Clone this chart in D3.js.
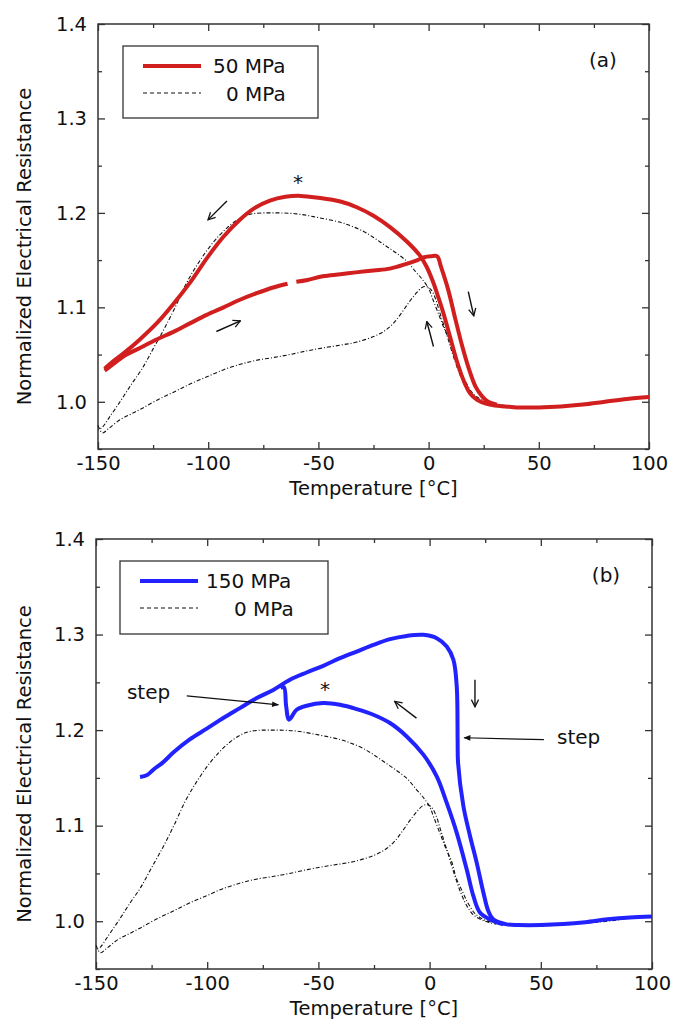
<!DOCTYPE html>
<html>
<head>
<meta charset="utf-8">
<script src="https://cdn.jsdelivr.net/npm/d3@7"></script>
<style>
  body { margin: 0; background: #fff; }
  svg text { font-family: "DejaVu Sans", Verdana, sans-serif; fill: #111; }
</style>
</head>
<body>
<div id="chart"></div>
<script>
// Data /////////////////////////////////////////////////////////////////
// [temperature degC, normalized resistance]
// 0 MPa reference loop (same in both panels)
const zeroCooling = [
  [100, 1.005], [90, 1.003], [80, 1.0], [70, 0.998], [60, 0.996], [50, 0.995], [40, 0.995],
  [35, 0.996], [30, 0.998], [25, 1.001], [22, 1.005], [20, 1.009], [17, 1.02], [15, 1.03],
  [12, 1.045], [10, 1.062], [7, 1.078], [5, 1.09], [2, 1.108], [0, 1.12], [-3, 1.13],
  [-6, 1.138], [-10, 1.149], [-15, 1.158], [-20, 1.166], [-25, 1.174], [-30, 1.181],
  [-35, 1.186], [-40, 1.19], [-50, 1.195], [-60, 1.199], [-70, 1.2], [-80, 1.199],
  [-85, 1.195], [-90, 1.187], [-95, 1.176], [-100, 1.162], [-105, 1.145], [-110, 1.125],
  [-115, 1.1], [-120, 1.077], [-125, 1.056], [-130, 1.035], [-135, 1.018], [-140, 1.0],
  [-145, 0.983], [-148, 0.973], [-150, 0.97]
]
const zeroHeating = [
  [-150, 0.975], [-148, 0.967], [-145, 0.972], [-140, 0.981], [-135, 0.987], [-130, 0.993],
  [-123, 1.002], [-115, 1.011], [-108, 1.019], [-100, 1.027], [-93, 1.034], [-85, 1.04],
  [-78, 1.044], [-70, 1.047], [-63, 1.05], [-55, 1.054], [-48, 1.057], [-40, 1.06],
  [-33, 1.063], [-25, 1.069], [-20, 1.075], [-16, 1.083], [-12, 1.095], [-9, 1.105],
  [-6, 1.114], [-3, 1.121], [-1, 1.122], [1, 1.119], [3, 1.11], [5, 1.095], [8, 1.073],
  [11, 1.05], [14, 1.03], [17, 1.015], [20, 1.006], [25, 1.0], [30, 0.997]
]

// 50 MPa (panel a)
const red50Cooling = [
  [100, 1.005], [90, 1.003], [80, 1.0], [70, 0.997], [60, 0.995], [50, 0.994], [40, 0.994],
  [35, 0.995], [30, 0.996], [26, 0.998], [22, 1.002], [18.8, 1.009], [15.8, 1.023],
  [12.7, 1.044], [9.7, 1.069], [6.7, 1.094], [4.5, 1.11], [2, 1.127], [-0.9, 1.143],
  [-4, 1.155], [-10, 1.17], [-17.5, 1.185], [-25, 1.197], [-32.6, 1.206], [-40, 1.212],
  [-50, 1.216], [-58, 1.218], [-65, 1.217], [-72, 1.213], [-79, 1.205], [-86, 1.192],
  [-93, 1.175], [-100, 1.154], [-108, 1.127], [-116, 1.103], [-123, 1.084], [-131, 1.066],
  [-138, 1.052], [-143, 1.043], [-147, 1.035]
]
const red50Heating = [
  [-147, 1.033], [-143, 1.04], [-138.5, 1.048], [-131, 1.057], [-123.4, 1.066],
  [-115.8, 1.074], [-108.3, 1.083], [-100.7, 1.092], [-93, 1.1], [-85.6, 1.108],
  [-78, 1.115], [-70.5, 1.121], [-64, 1.125], [-62, null], [-60, 1.127], [-55, 1.129],
  [-48, 1.133], [-40, 1.135], [-33, 1.137], [-25, 1.139], [-17.5, 1.141], [-10, 1.146],
  [-5, 1.15], [-2, 1.153], [1, 1.154], [3.9, 1.154], [5.6, 1.143], [8.9, 1.1185],
  [12.2, 1.087], [15.3, 1.0585], [18.4, 1.034], [21.3, 1.016], [24.2, 1.006],
  [27, 1.0], [31, 0.997]
]

// 150 MPa (panel b)
const blue150Upper = [
  [-130.2, 1.151], [-127, 1.153], [-124, 1.159], [-120, 1.166], [-115, 1.177],
  [-108, 1.19], [-100.2, 1.2015], [-92.8, 1.2126], [-85.3, 1.223],
  [-77.7, 1.2335], [-70.3, 1.242], [-62.8, 1.2527], [-55.3, 1.2603], [-47.8, 1.2673],
  [-40.3, 1.2753], [-32.8, 1.2822], [-25.3, 1.2892], [-17.8, 1.2952], [-10.3, 1.2986],
  [-2.8, 1.2997], [3.2, 1.2962], [7.7, 1.2875], [10.7, 1.2736], [12.2, 1.2457],
  [12.6, 1.19], [12.8, 1.1656], [15.2, 1.1203], [18.2, 1.089], [21.2, 1.0611],
  [24.2, 1.0298], [26.4, 1.0106], [28.6, 1.0019], [34.7, 0.9967], [40, 0.996],
  [50, 0.996], [60, 0.997], [70, 0.999], [80, 1.002], [90, 1.004], [100, 1.005]
]
const blue150Lower = [
  [33.2, 0.9967], [27.2, 1.0019], [22.7, 1.0089], [19.7, 1.0262], [16.7, 1.0541],
  [12.2, 1.0925], [7.7, 1.1238], [3.2, 1.1516], [-2.8, 1.1743], [-10.3, 1.1934],
  [-17.8, 1.2074], [-25.3, 1.2161], [-32.8, 1.222], [-40.3, 1.2265], [-47.8, 1.2283],
  [-55.3, 1.2255], [-59.8, 1.2213], [-63.2, 1.2109], [-64.5, 1.225], [-65.5, 1.245],
  [-67, 1.244]
]

// Axis ticks
const xMajor = [-150, -100, -50, 0, 50, 100]
const xMinor = [-125, -75, -25, 25, 75]
const yMajor = [1.0, 1.1, 1.2, 1.3, 1.4]
const yMinor = [0.95, 1.05, 1.15, 1.25, 1.35]

// Annotations (data coords)
const arrowsA = [
  [[-91.5, 1.2127], [-100.1, 1.1926]],
  [[-96.3, 1.0744], [-85.4, 1.0857]],
  [[2.2, 1.0585], [-0.8, 1.085]],
  [[18, 1.1167], [20.5, 1.091]]
]
const starsA = [[-59.3, 1.237]]
const arrowsB = [
  [[-5.9, 1.2126], [-15.7, 1.23]],
  [[20.4, 1.2527], [20.4, 1.2244]]
]
const stepArrowsB = [
  [[-109.2, 1.2359], [-68.0, 1.2265]],
  [[51.4, 1.19], [15.5, 1.192]]
]
const stepLabelsB = [[-136.1, 1.24], [57.3, 1.193]]
const starsB = [[-47.0, 1.2474]]
/////////////////////////////////////////////////////////////////////////

const width = 683
const height = 1026
const fontSize = 19.5

const svg = d3.select('#chart')
  .append('svg')
  .attr('width', width)
  .attr('height', height)

const defs = svg.append('defs')
defs.append('marker')
  .attr('id', 'open')
  .attr('viewBox', '0 0 10 10')
  .attr('refX', 9).attr('refY', 5)
  .attr('markerWidth', 9).attr('markerHeight', 9)
  .attr('markerUnits', 'userSpaceOnUse')
  .attr('orient', 'auto')
  .append('path')
  .attr('d', 'M1,1 L9,5 L1,9')
  .attr('fill', 'none')
  .attr('stroke', '#111')
  .attr('stroke-width', 1.4)
defs.append('marker')
  .attr('id', 'filled')
  .attr('viewBox', '0 0 10 10')
  .attr('refX', 9).attr('refY', 5)
  .attr('markerWidth', 9).attr('markerHeight', 7)
  .attr('markerUnits', 'userSpaceOnUse')
  .attr('orient', 'auto')
  .append('path')
  .attr('d', 'M0,1 L10,5 L0,9 Z')
  .attr('fill', '#111')

function drawPanel(p) {
  const x = d3.scaleLinear().domain([-150, 100]).range([p.left, p.right])
  const y = d3.scaleLinear().domain([0.95, 1.4]).range([p.bottom, p.top])
  const g = svg.append('g')

  // ticks (inward, all four sides)
  const tickGroup = (axis, tr) => {
    const ag = g.append('g').attr('transform', tr).call(axis)
    ag.select('.domain').remove()
    ag.selectAll('line').attr('stroke', '#333').attr('stroke-width', 1.3)
    ag.attr('font-family', null).attr('font-size', fontSize)
    return ag
  }
  const none = () => ''
  tickGroup(d3.axisBottom(x).tickValues(xMajor).tickSizeInner(-7).tickSizeOuter(0)
    .tickPadding(7).tickFormat(d => String(d)), `translate(0,${p.bottom})`)
    .selectAll('text').attr('fill', '#111')
  tickGroup(d3.axisBottom(x).tickValues(xMinor).tickSizeInner(-4).tickSizeOuter(0).tickFormat(none),
    `translate(0,${p.bottom})`)
  tickGroup(d3.axisTop(x).tickValues(xMajor).tickSizeInner(-7).tickSizeOuter(0).tickFormat(none),
    `translate(0,${p.top})`)
  tickGroup(d3.axisTop(x).tickValues(xMinor).tickSizeInner(-4).tickSizeOuter(0).tickFormat(none),
    `translate(0,${p.top})`)
  tickGroup(d3.axisLeft(y).tickValues(yMajor).tickSizeInner(-7).tickSizeOuter(0)
    .tickPadding(11).tickFormat(d3.format('.1f')), `translate(${p.left},0)`)
    .selectAll('text').attr('fill', '#111')
  tickGroup(d3.axisLeft(y).tickValues(yMinor).tickSizeInner(-4).tickSizeOuter(0).tickFormat(none),
    `translate(${p.left},0)`)
  tickGroup(d3.axisRight(y).tickValues(yMajor).tickSizeInner(-7).tickSizeOuter(0).tickFormat(none),
    `translate(${p.right},0)`)
  tickGroup(d3.axisRight(y).tickValues(yMinor).tickSizeInner(-4).tickSizeOuter(0).tickFormat(none),
    `translate(${p.right},0)`)

  // frame
  g.append('rect')
    .attr('x', p.left).attr('y', p.top)
    .attr('width', p.right - p.left).attr('height', p.bottom - p.top)
    .attr('fill', 'none').attr('stroke', '#333').attr('stroke-width', 1.5)

  // curves
  const line = d3.line()
    .defined(d => d[1] != null)
    .x(d => x(d[0]))
    .y(d => y(d[1]))
    .curve(d3.curveCatmullRom.alpha(0.5))

  g.selectAll('path.zero')
    .data([zeroCooling, zeroHeating])
    .join('path')
    .attr('class', 'zero')
    .attr('d', line)
    .attr('fill', 'none')
    .attr('stroke', '#111')
    .attr('stroke-width', 1.1)
    .attr('stroke-dasharray', '4,2,1,2')

  g.selectAll('path.stress')
    .data(p.series)
    .join('path')
    .attr('class', 'stress')
    .attr('d', line)
    .attr('fill', 'none')
    .attr('stroke', p.color)
    .attr('stroke-width', 4)
    .attr('stroke-linejoin', 'round')

  // annotation arrows
  g.selectAll('line.dir')
    .data(p.arrows)
    .join('line')
    .attr('class', 'dir')
    .attr('x1', d => x(d[0][0])).attr('y1', d => y(d[0][1]))
    .attr('x2', d => x(d[1][0])).attr('y2', d => y(d[1][1]))
    .attr('stroke', '#111').attr('stroke-width', 1.4)
    .attr('marker-end', 'url(#open)')

  g.selectAll('line.step')
    .data(p.stepArrows || [])
    .join('line')
    .attr('class', 'step')
    .attr('x1', d => x(d[0][0])).attr('y1', d => y(d[0][1]))
    .attr('x2', d => x(d[1][0])).attr('y2', d => y(d[1][1]))
    .attr('stroke', '#111').attr('stroke-width', 1.2)
    .attr('marker-end', 'url(#filled)')

  g.selectAll('text.steplab')
    .data(p.stepLabels || [])
    .join('text')
    .attr('class', 'steplab')
    .attr('x', d => x(d[0])).attr('y', d => y(d[1]))
    .attr('dy', '0.35em')
    .attr('font-size', 20)
    .text('step')

  g.selectAll('text.star')
    .data(p.stars)
    .join('text')
    .attr('class', 'star')
    .attr('x', d => x(d[0])).attr('y', d => y(d[1]))
    .attr('dy', '0.55em')
    .attr('text-anchor', 'middle')
    .attr('font-size', 20)
    .text('*')

  // panel tag
  g.append('text')
    .attr('x', p.right - 46).attr('y', p.top + p.tagDy)
    .attr('dy', '0.35em')
    .attr('text-anchor', 'middle')
    .attr('font-size', 20)
    .text(p.tag)

  // legend
  const lg = g.append('g').attr('transform', `translate(${p.left + p.legend.dx},${p.top + p.legend.dy})`)
  lg.append('rect')
    .attr('width', p.legend.w).attr('height', p.legend.h)
    .attr('fill', '#fff').attr('stroke', '#333').attr('stroke-width', 1.3)
  lg.append('line')
    .attr('x1', 20).attr('x2', 78).attr('y1', 20).attr('y2', 20)
    .attr('stroke', p.color).attr('stroke-width', 4)
  lg.append('line')
    .attr('x1', 20).attr('x2', 78).attr('y1', 47).attr('y2', 47)
    .attr('stroke', '#111').attr('stroke-width', 1.1).attr('stroke-dasharray', '4,3')
  lg.append('text')
    .attr('x', p.legend.tx1).attr('y', 20).attr('dy', '0.35em')
    .attr('font-size', 20).text(p.label)
  lg.append('text')
    .attr('x', p.legend.tx2).attr('y', 48).attr('dy', '0.35em')
    .attr('font-size', 20).text('0 MPa')

  // axis titles
  g.append('text')
    .attr('x', (p.left + p.right) / 2).attr('y', p.bottom + 46)
    .attr('text-anchor', 'middle')
    .attr('font-size', fontSize)
    .text('Temperature [°C]')
  g.append('text')
    .attr('transform', `translate(24,${(p.top + p.bottom) / 2 + 10}) rotate(-90)`)
    .attr('text-anchor', 'middle')
    .attr('dominant-baseline', 'central')
    .attr('font-size', 19.5)
    .text('Normalized Electrical Resistance')
}

drawPanel({
  left: 98, right: 649, top: 24, bottom: 449,
  color: '#d11f1f',
  series: [red50Cooling, red50Heating],
  label: '50 MPa',
  tag: '(a)', tagDy: 36,
  arrows: arrowsA,
  stars: starsA,
  legend: { dx: 25, dy: 22, w: 195, h: 72, tx1: 90, tx2: 103 }
})

drawPanel({
  left: 96, right: 652, top: 539, bottom: 969,
  color: '#2222ff',
  series: [blue150Upper, blue150Lower],
  label: '150 MPa',
  tag: '(b)', tagDy: 36,
  arrows: arrowsB,
  stepArrows: stepArrowsB,
  stepLabels: stepLabelsB,
  stars: starsB,
  legend: { dx: 24, dy: 22, w: 208, h: 73, tx1: 86, tx2: 114 }
})
</script>
</body>
</html>
